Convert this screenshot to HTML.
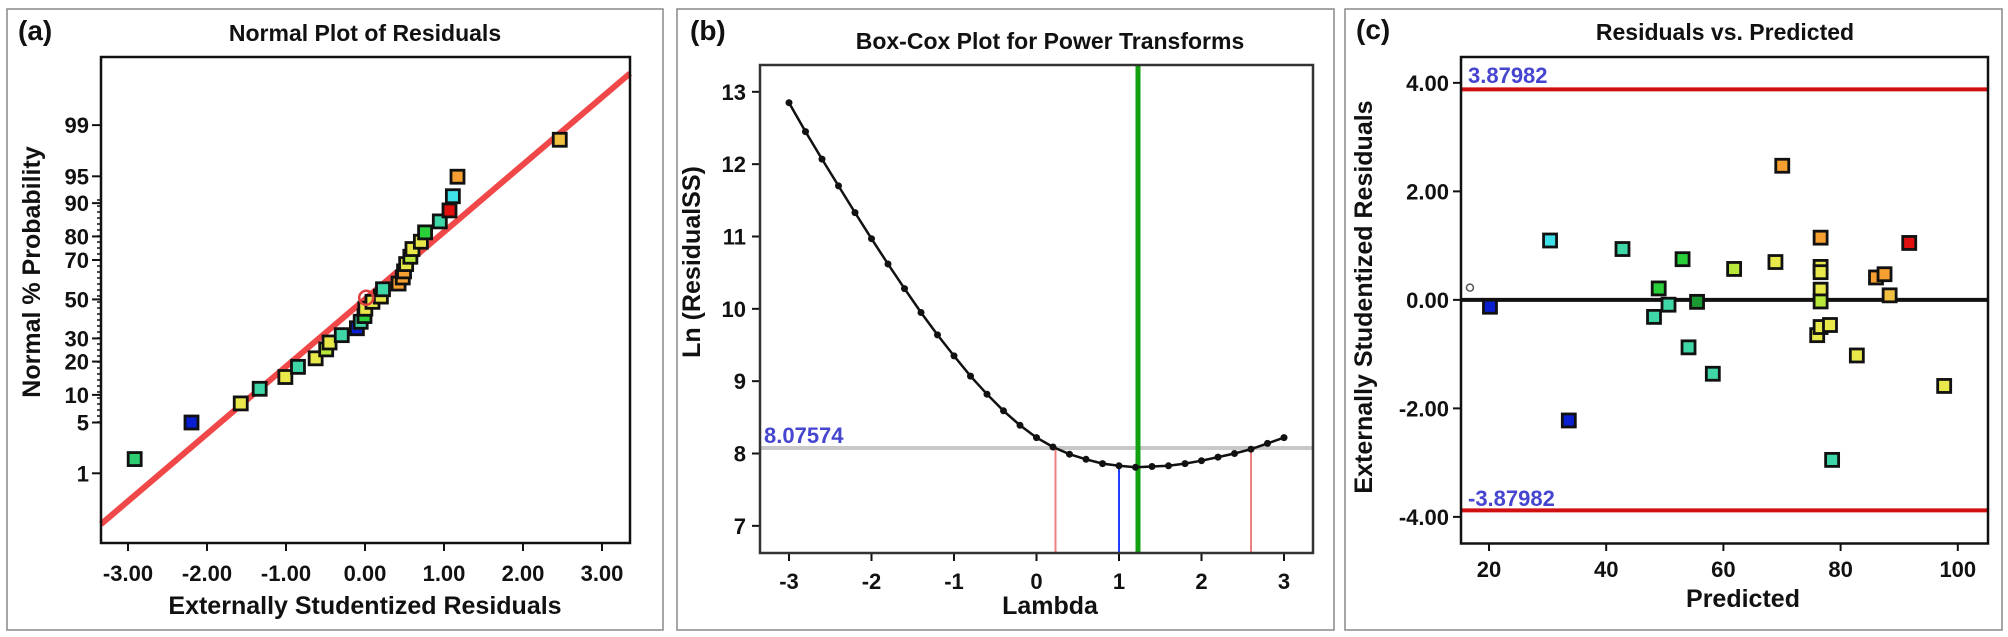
<!DOCTYPE html>
<html><head><meta charset="utf-8"><style>
body{margin:0;background:#fff;width:2008px;height:637px;overflow:hidden}
svg{display:block;font-family:"Liberation Sans",Arial,sans-serif;font-weight:bold}
</style></head><body>
<svg id="s" width="2008" height="637" viewBox="0 0 2008 637" xmlns="http://www.w3.org/2000/svg">
<rect x="0" y="0" width="2008" height="637" fill="#fff"/>
<rect x="7" y="9" width="656" height="621" fill="none" stroke="#888" stroke-width="1.5"/>
<rect x="677" y="9" width="657" height="621" fill="none" stroke="#888" stroke-width="1.5"/>
<rect x="1345" y="9" width="657" height="621" fill="none" stroke="#888" stroke-width="1.5"/>
<g id="g"></g>
</svg>
<script>
var g=document.getElementById('g');var h='';
function T(x,y,t,sz,anc,fill,extra){h+='<text x="'+x+'" y="'+y+'" font-size="'+sz+'" text-anchor="'+(anc||'middle')+'" fill="'+(fill||'#111')+'" '+(extra||'')+'>'+t+'</text>';}
function L(x1,y1,x2,y2,c,w){h+='<line x1="'+x1+'" y1="'+y1+'" x2="'+x2+'" y2="'+y2+'" stroke="'+c+'" stroke-width="'+w+'"/>';}
var C={g:'#2ecc71',b:'#0a1fd0',y:'#e8e84a',t:'#3fd6a8',yg:'#b8e83a',gr:'#2bcf3a',o:'#f5a030',r:'#e01010',c:'#40e0e8',dg:'#1a9a30',yo:'#f0c040'};
function sq(x,y,c){h+='<rect x="'+(x-6.5)+'" y="'+(y-6.5)+'" width="13" height="13" fill="'+C[c]+'" stroke="#111" stroke-width="2.8"/>';}
var TK=22, AX=25, TT=23, PL=28, SY=2.4615;
// Panel a
var fa=0.9654;
T(18,40,'(a)',PL,'start');T(365,41,'Normal Plot of Residuals',TT);
L(101,543*fa,630,76*fa,'#f04848',6);
h+='<rect x="101" y="57" width="529" height="486" fill="none" stroke="#111" stroke-width="2.5"/>';
[[-3,'-3.00'],[-2,'-2.00'],[-1,'-1.00'],[0,'0.00'],[1,'1.00'],[2,'2.00'],[3,'3.00']].forEach(function(a){var x=365+a[0]*79;L(x,543,x,551,'#111',2);T(x,581,a[1],TK);});
T(365,614,'Externally Studentized Residuals',AX);
[[99,308],[95,434],[90,500],[80,582],[70,640],[50,737],[30,833],[20,890],[10,972],[5,1040],[1,1165]].forEach(function(a){var y=a[1]/SY;L(92,y,101,y,'#111',2);T(89,y+8,a[0],TK,'end');});
for(var yy=200;yy<425;yy+=6)L(97,yy,101,yy,'#111',1.5);
T(0,0,'Normal % Probability',AX,'middle','#111','transform="translate(40,272) rotate(-90)"');
var pa=[[320,1130,'g'],[455,1040,'b'],[572,993,'y'],[617,957,'t'],[678,928,'y'],[708,903,'t'],[750,882,'y'],[775,860,'yg'],[783,843,'y'],[812,825,'t'],[848,808,'b'],[857,792,'t'],[866,778,'gr'],[868,760,'y'],[885,743,'y'],[905,730,'y'],[910,712,'t'],[947,698,'o'],[957,683,'o'],[960,668,'o'],[965,650,'y'],[975,632,'yg'],[980,613,'y'],[1000,595,'y'],[1010,572,'gr'],[1045,545,'t'],[1068,518,'r'],[1076,483,'c'],[1087,435,'o'],[1330,344,'yo']];
pa.forEach(function(p){sq(p[0]/2.376,p[1]/SY,p[2]);});
h+='<circle cx="'+(870/2.376)+'" cy="'+(733/SY)+'" r="7" fill="none" stroke="#e04040" stroke-width="2.5"/>';
// Panel b
var fb=0.937;
T(690,40,'(b)',PL,'start');T(1050,49,'Box-Cox Plot for Power Transforms',TT);
function bx(l){return 1036.5+l*82.5;} function by(v){return (484-(v-8)*77.2)*fb;}
[-3,-2,-1,0,1,2,3].forEach(function(v){L(bx(v),553,bx(v),561,'#111',2);T(bx(v),589,v,TK);});
[7,8,9,10,11,12,13].forEach(function(v){L(752,by(v),760,by(v),'#111',2);T(746,by(v)+8,v,TK,'end');});
T(1050,614,'Lambda',AX);
T(0,0,'Ln (ResidualSS)',AX,'middle','#111','transform="translate(700,262) rotate(-90)"');
var gy=448;
L(760,gy,1313,gy,'#c8c8c8',4);
T(764,443,'8.07574',TK,'start','#4545d0');
L(bx(0.23),gy,bx(0.23),553,'#f08080',2);L(bx(2.6),gy,bx(2.6),553,'#f08080',2);
L(bx(1),by(7.83),bx(1),553,'#2040ff',2);
L(1138,65,1138,553,'#10a010',5);
var cv=[12.85,12.45,12.07,11.7,11.33,10.97,10.62,10.28,9.95,9.64,9.35,9.07,8.82,8.59,8.39,8.22,8.09,7.99,7.92,7.86,7.83,7.81,7.82,7.83,7.86,7.9,7.95,8.0,8.06,8.14,8.22];
var pts=cv.map(function(v,i){return [bx(-3+i*0.2).toFixed(1),by(v).toFixed(1)];});
h+='<polyline points="'+pts.map(function(p){return p.join(',');}).join(' ')+'" fill="none" stroke="#111" stroke-width="2.5"/>';
pts.forEach(function(p){h+='<circle cx="'+p[0]+'" cy="'+p[1]+'" r="3.5" fill="#111"/>';});
h+='<rect x="760" y="65" width="553" height="488" fill="none" stroke="#333" stroke-width="2.5"/>';
// Panel c
var fc=0.9535;
T(1356,39,'(c)',PL,'start');T(1725,40,'Residuals vs. Predicted',TT);
function cx(v){return 1489+(v-20)*5.86;} function cy(v){return (314.5-v*56.9)*fc;}
[20,40,60,80,100].forEach(function(v){L(cx(v),543.5,cx(v),551,'#111',2);T(cx(v),577,v,TK);});
[[4,'4.00'],[2,'2.00'],[0,'0.00'],[-2,'-2.00'],[-4,'-4.00']].forEach(function(a){L(1453,cy(a[0]),1461,cy(a[0]),'#111',2);T(1449,cy(a[0])+8,a[1],TK,'end');});
T(1743,607,'Predicted',AX);
T(0,0,'Externally Studentized Residuals',AX,'middle','#111','transform="translate(1372,297) rotate(-90)"');
L(1461,cy(3.88),1988,cy(3.88),'#d01010',4);L(1461,cy(-3.88),1988,cy(-3.88),'#d01010',4);
L(1461,cy(0),1988,cy(0),'#111',4);
T(1468,83,'3.87982',TK,'start','#4545d0');T(1468,506,'-3.87982',TK,'start','#4545d0');
var pc=[[352,755,'b'],[493,592,'c'],[537,1035,'b'],[663,613,'t'],[737,780,'t'],[748,710,'gr'],[771,750,'t'],[804,638,'gr'],[818,855,'t'],[838,743,'dg'],[875,920,'t'],[925,662,'yg'],[1022,645,'y'],[1038,408,'o'],[1120,825,'y'],[1128,805,'y'],[1150,800,'y'],[1128,585,'o'],[1128,657,'y'],[1128,670,'y'],[1128,713,'y'],[1128,742,'yg'],[1155,1132,'t'],[1213,875,'y'],[1258,683,'o'],[1278,675,'o'],[1290,727,'yo'],[1336,598,'r'],[1418,950,'y']];
pc.forEach(function(p){sq(1340+p[0]/2.347,p[1]/SY,p[2]);});
h+='<circle cx="'+(1340+305/2.347)+'" cy="'+(708/SY)+'" r="3.5" fill="#fff" stroke="#555" stroke-width="1.5"/>';
h+='<rect x="1461" y="57" width="527" height="486.5" fill="none" stroke="#111" stroke-width="2.5"/>';
g.innerHTML=h;
</script>
</body></html>
